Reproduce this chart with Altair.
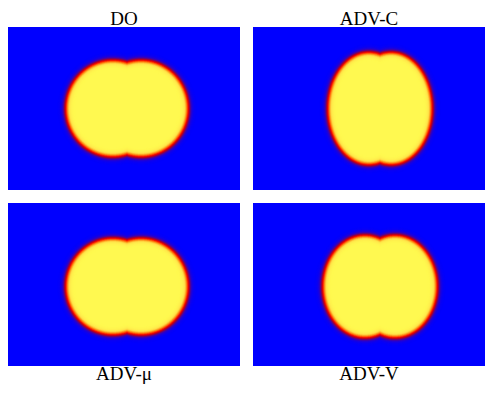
import altair as alt
import numpy as np
import pandas as pd

# ---- values (panel units: 240 x 168 px, lobe centre at 120, 84) ----
titles = ["DO", "ADV-C", "ADV-μ", "ADV-V"]
title_orient = ["top", "top", "bottom", "bottom"]
center_x = [120, 120, 120, 120]
center_y = [84, 84, 84, 84]
semi_x = [47, 41, 47, 42]          # half-width of each lobe
semi_y = [48, 56, 48, 51]          # half-height of each lobe
lobe_offset = [14, 11, 14, 15]     # horizontal offset of the two lobes
interface_w = 3.0                  # diffuse interface width
offsets = [9.0 - 0.5 * k for k in range(37)]   # contour offsets from the interface
x_window = [[1, 233], [-7, 225], [1, 233], [-7, 225]]   # visible part of each panel
y_window = [[2.5, 165.5], [2.5, 165.5], [0.5, 163.5], [0.5, 163.5]]

cmap_pos = [0.0, 0.12, 0.28, 0.45, 0.62, 0.78, 0.9, 1.0]
cmap_col = ["#0000ff", "#4000b0", "#a00030", "#f00000", "#ff5000", "#ffa020", "#ffe048", "#fffa50"]

PANEL_W, PANEL_H = 232, 163


def hex2rgb(h):
    return [int(h[i:i + 2], 16) for i in (1, 3, 5)]


cm_rgb = np.array([hex2rgb(c) for c in cmap_col], dtype=float)


def cmap(phi):
    r = [np.interp(phi, cmap_pos, cm_rgb[:, j]) for j in range(3)]
    return "#%02x%02x%02x" % tuple(int(round(v)) for v in r)


def panel_data(i):
    rows = []
    cx, cy, d = center_x[i], center_y[i], lobe_offset[i]
    for k, s in enumerate(offsets):
        a = semi_x[i] + s
        b = semi_y[i] + s
        th = np.linspace(0, np.pi, 81)
        xs = np.concatenate([cx - d + a * np.cos(th), cx + d + a * np.cos(th),
                             np.arange(0, 241, 1.0), [cx]])
        xs = np.unique(np.round(xs, 4))
        xs = xs[(xs >= cx - d - a) & (xs <= cx + d + a)]
        h1 = b * np.sqrt(np.clip(1 - ((xs - (cx - d)) / a) ** 2, 0, None))
        h2 = b * np.sqrt(np.clip(1 - ((xs - (cx + d)) / a) ** 2, 0, None))
        h = np.maximum(h1, h2)
        for x, hh in zip(xs, h):
            rows.append({"x": round(float(x), 3), "y": round(float(cy - hh), 3),
                         "y2": round(float(cy + hh), 3), "level": k})
    return pd.DataFrame(rows)


def panel(i):
    df = panel_data(i)
    base = alt.Chart(df)
    layers = []
    for k, s in enumerate(offsets):
        phi = 0.5 * (1 - np.tanh((s - 0.25) / interface_w))
        layers.append(
            base.transform_filter(alt.datum.level == k)
            .mark_area(interpolate="linear", strokeWidth=0, clip=True)
            .encode(
                x=alt.X("x:Q", scale=alt.Scale(domain=x_window[i], nice=False, zero=False), axis=None),
                y=alt.Y("y:Q", scale=alt.Scale(domain=y_window[i], nice=False, zero=False, reverse=True), axis=None),
                y2="y2:Q",
                color=alt.value(cmap(phi)),
            )
        )
    return alt.layer(*layers).properties(
        width=PANEL_W,
        height=PANEL_H,
        title=alt.TitleParams(
            text=titles[i],
            orient=title_orient[i],
            font="Liberation Serif",
            fontSize=19,
            fontWeight="normal",
            color="#000000",
            offset=-2 if title_orient[i] == "top" else -1,
        ),
    )


row1 = alt.hconcat(panel(0), panel(1), spacing=13)
row2 = alt.hconcat(panel(2), panel(3), spacing=13)
chart = (
    alt.vconcat(row1, row2, spacing=13)
    .properties(padding={"left": 0, "top": 2, "right": 0, "bottom": 0})
    .configure_view(fill="#0000ff", strokeWidth=0)
)

chart.save("out.html", embed_options={"renderer": "svg", "actions": False})
